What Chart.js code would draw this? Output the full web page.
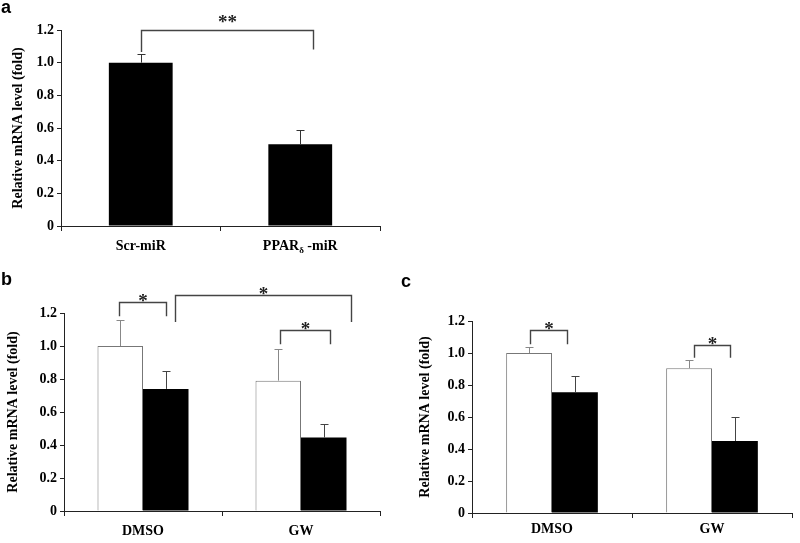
<!DOCTYPE html>
<html>
<head>
<meta charset="utf-8">
<script src="https://cdn.jsdelivr.net/npm/chart.js@4.4.1/dist/chart.umd.min.js"></script>
<style>
body { margin: 0; background: #fff; }
#wrap { position: relative; width: 800px; height: 543px; overflow: hidden; }
canvas { position: absolute; }
.tag { position: absolute; font: bold 18px "Liberation Sans", Arial, sans-serif; line-height: 18px; color: #000; }
</style>
</head>
<body>
<div id="wrap">
    <canvas id="chartA" width="400" height="265" style="left:0;top:0"></canvas>
    <canvas id="chartB" width="400" height="278" style="left:0;top:265px"></canvas>
    <canvas id="chartC" width="400" height="278" style="left:400px;top:265px"></canvas>
    <div class="tag" style="left:1px;top:-2px">a</div>
    <div class="tag" style="left:1px;top:270px">b</div>
    <div class="tag" style="left:401px;top:272px">c</div>
</div>
<script>
// panel a
var labelsA = ['Scr-miR', 'PPARδ -miR'];
var valuesA = [1.0, 0.50];
var errorsA = [0.05, 0.085];

// panels b and c
var labelsBC = ['DMSO', 'GW'];
var whiteB = [1.0, 0.79];
var whiteErrB = [0.16, 0.19];
var blackB = [0.74, 0.445];
var blackErrB = [0.11, 0.08];
var whiteC = [1.0, 0.905];
var whiteErrC = [0.04, 0.05];
var blackC = [0.755, 0.45];
var blackErrC = [0.10, 0.15];

var yTitle = 'Relative mRNA level (fold)';

// significance brackets: x in category units, heights in fold units
var bracketsA = [{x1: 0, x2: 1.08, top: 1.2, leg1: 1.065, leg2: 1.08, text: '**'}];
var bracketsB = [
    {x1: -0.15, x2: 0.145, top: 1.265, leg1: 1.18, leg2: 1.18, text: '*'},
    {x1: 0.2, x2: 1.315, top: 1.31, leg1: 1.145, leg2: 1.145, text: '*'},
    {x1: 0.87, x2: 1.185, top: 1.095, leg1: 1.01, leg2: 1.01, text: '*'}
];
var bracketsC = [
    {x1: -0.14, x2: 0.095, top: 1.145, leg1: 1.055, leg2: 1.055, text: '*'},
    {x1: 0.89, x2: 1.115, top: 1.05, leg1: 0.97, leg2: 0.97, text: '*'}
];

var serif = '"Liberation Serif", "Times New Roman", serif';

var errorBars = {
    id: 'errorBars',
    afterDatasetsDraw: function (chart) {
        var ctx = chart.ctx;
        var y = chart.scales.y;
        chart.data.datasets.forEach(function (ds, i) {
            chart.getDatasetMeta(i).data.forEach(function (bar, j) {
                var top = Math.round(y.getPixelForValue(ds.data[j] + ds.errors[j])) + 0.5;
                var cx = Math.round(bar.x) + 0.5;
                ctx.save();
                ctx.strokeStyle = ds.errorColor;
                ctx.lineWidth = 1;
                ctx.beginPath();
                ctx.moveTo(cx, bar.y);
                ctx.lineTo(cx, top);
                ctx.moveTo(cx - 4, top);
                ctx.lineTo(cx + 4, top);
                ctx.stroke();
                ctx.restore();
            });
        });
    }
};

function bracketPlugin(items) {
    return {
        id: 'brackets',
        afterDraw: function (chart) {
            var ctx = chart.ctx;
            var x = chart.scales.x, y = chart.scales.y;
            ctx.save();
            items.forEach(function (b) {
                var x1 = Math.round(x.getPixelForValue(b.x1)) + 0.5;
                var x2 = Math.round(x.getPixelForValue(b.x2)) + 0.5;
                var yt = Math.round(y.getPixelForValue(b.top)) + 0.5;
                ctx.strokeStyle = '#444';
                ctx.lineWidth = 1.4;
                ctx.beginPath();
                ctx.moveTo(x1, y.getPixelForValue(b.leg1));
                ctx.lineTo(x1, yt);
                ctx.lineTo(x2, yt);
                ctx.lineTo(x2, y.getPixelForValue(b.leg2));
                ctx.stroke();
                ctx.fillStyle = '#222';
                ctx.font = 'bold 19px ' + serif;
                ctx.textAlign = 'center';
                ctx.textBaseline = 'alphabetic';
                ctx.fillText(b.text, (x1 + x2) / 2, yt + (b.text.length > 1 ? -3 : 4));
            });
            ctx.restore();
        }
    };
}

// category labels, with the delta drawn as a subscript
function labelPlugin(gap) {
    return {
        id: 'xLabels',
        afterDraw: function (chart) {
            var ctx = chart.ctx;
            var x = chart.scales.x;
            var base = x.top + gap;
            ctx.save();
            ctx.fillStyle = '#000';
            ctx.textBaseline = 'alphabetic';
            ctx.textAlign = 'left';
            chart.data.labels.forEach(function (lab, i) {
                var cx = x.getPixelForTick(i);
                var parts = lab.split('δ');
                var big = 'bold 14px ' + serif, small = 'bold 9px ' + serif;
                ctx.font = big;
                var w0 = ctx.measureText(parts[0]).width;
                var w2 = parts.length > 1 ? ctx.measureText(parts[1]).width : 0;
                ctx.font = small;
                var w1 = parts.length > 1 ? ctx.measureText('δ').width : 0;
                var left = cx - (w0 + w1 + w2) / 2;
                ctx.font = big;
                ctx.fillText(parts[0], left, base);
                if (parts.length > 1) {
                    ctx.font = small;
                    ctx.fillText('δ', left + w0, base + 3);
                    ctx.font = big;
                    ctx.fillText(parts[1], left + w0 + w1, base);
                }
            });
            ctx.restore();
        }
    };
}

function makeChart(id, labels, sets, items, o) {
    return new Chart(document.getElementById(id), {
        type: 'bar',
        data: {
            labels: labels,
            datasets: sets.map(function (s) {
                return {
                    data: s.data,
                    errors: s.err,
                    backgroundColor: s.fill,
                    borderColor: '#777',
                    borderWidth: s.fill === '#fff' ? 1 : 0,
                    errorColor: s.errColor,
                    categoryPercentage: o.catPct,
                    barPercentage: o.barPct
                };
            })
        },
        options: {
            responsive: false,
            animation: false,
            layout: {padding: o.padding},
            plugins: {legend: {display: false}, tooltip: {enabled: false}},
            scales: {
                x: {
                    grid: {offset: true, drawOnChartArea: false, tickLength: 5, color: '#222'},
                    border: {color: '#222', width: 1},
                    ticks: {display: false},
                    afterFit: function (s) { s.height = o.xHeight; }
                },
                y: {
                    min: 0,
                    max: 1.2,
                    ticks: {
                        stepSize: 0.2,
                        padding: 3,
                        color: '#000',
                        font: {family: serif, size: 14, weight: 'bold'},
                        callback: function (v) { return v === 0 ? '0' : v.toFixed(1); }
                    },
                    grid: {drawOnChartArea: false, tickLength: 4, color: '#222'},
                    border: {color: '#222', width: 1},
                    title: {
                        display: true,
                        text: yTitle,
                        color: '#000',
                        font: {family: serif, size: 14, weight: 'bold'},
                        padding: {top: o.titlePad, bottom: 0}
                    },
                    afterFit: function (s) { s.width = o.yWidth; }
                }
            }
        },
        plugins: [errorBars, bracketPlugin(items), labelPlugin(o.labelGap)]
    });
}

makeChart('chartA', labelsA,
    [{data: valuesA, err: errorsA, fill: '#000', errColor: '#333'}],
    bracketsA,
    {padding: {top: 30, right: 20, left: 0, bottom: 0}, yWidth: 61, xHeight: 39,
        catPct: 1, barPct: 0.4, titlePad: 10, labelGap: 24});

makeChart('chartB', labelsBC,
    [{data: whiteB, err: whiteErrB, fill: '#fff', errColor: '#888'},
        {data: blackB, err: blackErrB, fill: '#000', errColor: '#444'}],
    bracketsB,
    {padding: {top: 48, right: 20, left: 0, bottom: 0}, yWidth: 64, xHeight: 32,
        catPct: 0.576, barPct: 1, titlePad: 5, labelGap: 24});

makeChart('chartC', labelsBC,
    [{data: whiteC, err: whiteErrC, fill: '#fff', errColor: '#888'},
        {data: blackC, err: blackErrC, fill: '#000', errColor: '#444'}],
    bracketsC,
    {padding: {top: 56, right: 8, left: 0, bottom: 0}, yWidth: 72, xHeight: 30,
        catPct: 0.573, barPct: 1, titlePad: 17, labelGap: 20});
</script>
</body>
</html>
